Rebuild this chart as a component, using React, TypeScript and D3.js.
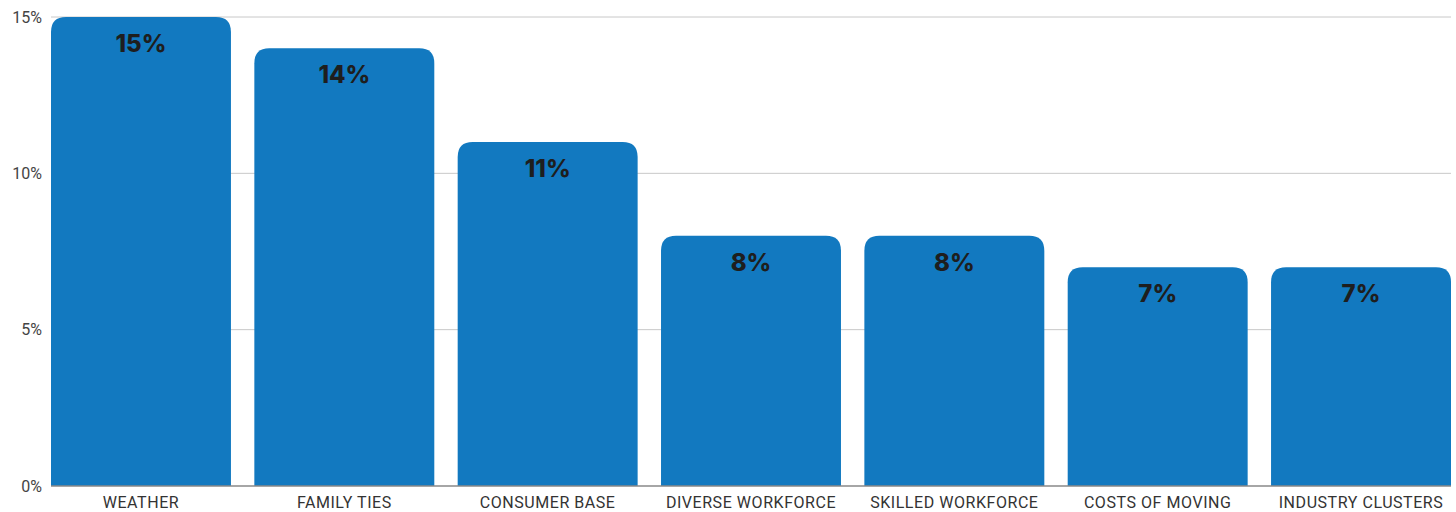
import React from "react";
import * as d3 from "d3";

const categories = ["WEATHER", "FAMILY TIES", "CONSUMER BASE", "DIVERSE WORKFORCE", "SKILLED WORKFORCE", "COSTS OF MOVING", "INDUSTRY CLUSTERS"];
const values = [15, 14, 11, 8, 8, 7, 7];
const yTicks = [0, 5, 10, 15];

const W = 1456;
const H = 512;
const margin = { left: 51, right: 5, top: 17, bottom: 26 };

function topRoundedBar(x: number, y: number, w: number, h: number, r: number) {
  const rr = Math.min(r, w / 2, h);
  return `M${x},${y + h}V${y + rr}Q${x},${y} ${x + rr},${y}H${x + w - rr}Q${x + w},${y} ${x + w},${y + rr}V${y + h}Z`;
}

export default function App() {
  const x = d3
    .scaleBand<string>()
    .domain(categories)
    .range([margin.left, W - margin.right])
    .paddingInner(0.115)
    .paddingOuter(0);
  const y = d3.scaleLinear().domain([0, 15]).range([H - margin.bottom, margin.top]);

  return (
    <svg
      width={W}
      height={H}
      style={{ position: "absolute", left: 0, top: 0, display: "block", background: "#fff" }}
    >
      {yTicks.map((t) => (
        <g key={t}>
          {t > 0 && (
            <line x1={margin.left} x2={W - margin.right} y1={y(t)} y2={y(t)} stroke="#c8c8c8" strokeWidth={1} />
          )}
          <text
            x={42}
            y={y(t)}
            dy="0.35em"
            textAnchor="end"
            fontFamily="Roboto, 'Liberation Sans', sans-serif"
            fontSize={16}
            fill="#444"
          >
            {t}%
          </text>
        </g>
      ))}
      {categories.map((c, i) => {
        const bx = x(c)!;
        const by = y(values[i]);
        const bh = y(0) - by;
        return (
          <g key={c}>
            <path d={topRoundedBar(bx, by, x.bandwidth(), bh, 15)} fill="#1279C0" />
            <text
              x={bx + x.bandwidth() / 2}
              y={by + 35}
              textAnchor="middle"
              fontFamily="Inter, 'Noto Sans', sans-serif"
              fontWeight={800}
              fontSize={24}
              fill="#1e1e1e"
            >
              {values[i]}%
            </text>
            <text
              x={bx + x.bandwidth() / 2}
              y={H - 4}
              textAnchor="middle"
              fontFamily="Roboto, 'Liberation Sans', sans-serif"
              fontSize={16}
              letterSpacing={0.55}
              fill="#333"
            >
              {c}
            </text>
          </g>
        );
      })}
      <line x1={margin.left} x2={W - margin.right} y1={y(0)} y2={y(0)} stroke="#888" strokeWidth={1.5} />
    </svg>
  );
}
